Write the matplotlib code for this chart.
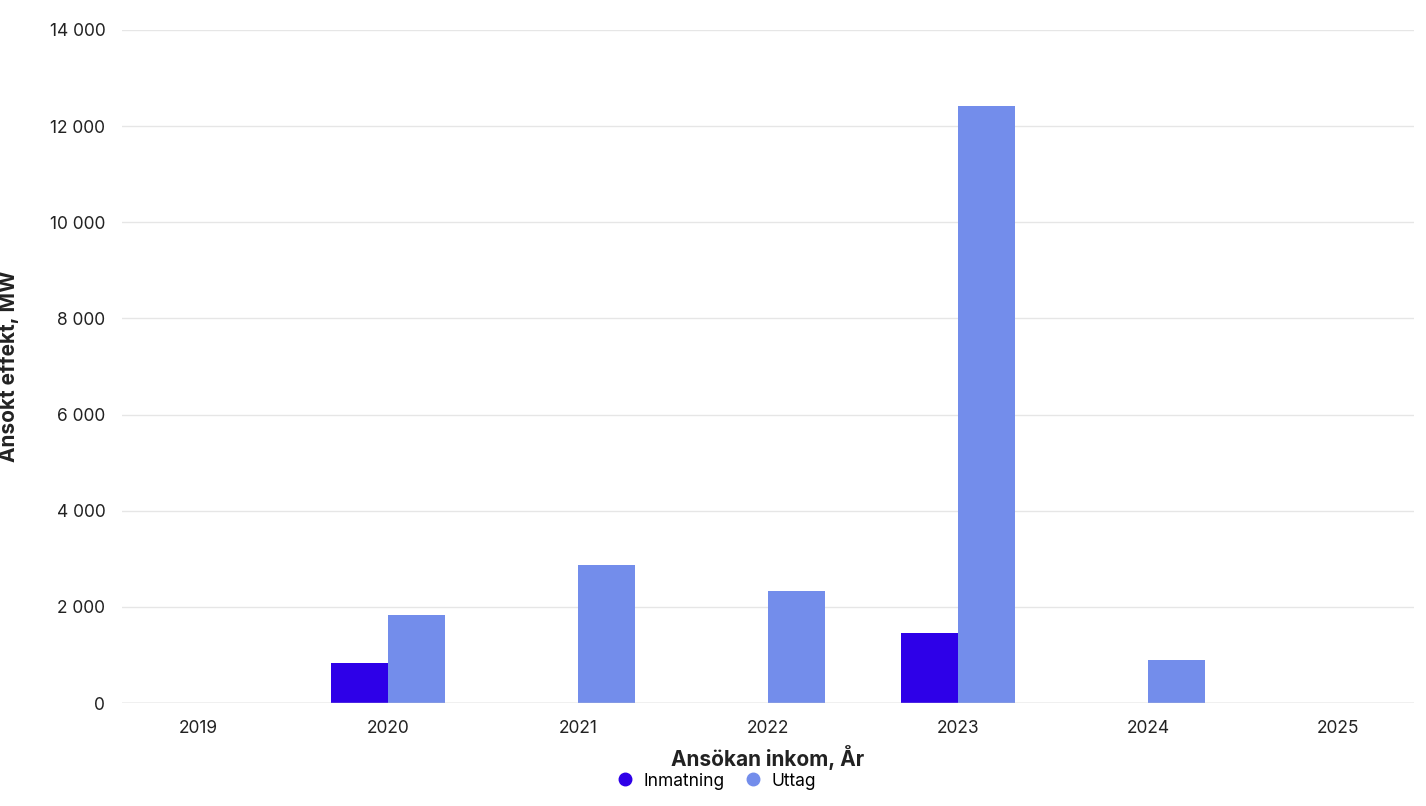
import matplotlib
matplotlib.use("Agg")
from matplotlib import pyplot as plt
from matplotlib.lines import Line2D
import numpy as np

years = ["2019", "2020", "2021", "2022", "2023", "2024", "2025"]
inmatning = [0, 830, 0, 0, 1456, 0, 0]
uttag = [0, 1830, 2870, 2330, 12420, 895, 0]

plt.rcParams['font.family'] = ['Inter', 'DejaVu Sans']

fig = plt.figure(figsize=(14.26, 8.06), dpi=100)
ax = fig.add_axes([122/1426, 1 - 703/806, (1414-122)/1426, (703-30)/806])

x = np.arange(len(years))
w = 0.3
ax.bar(x - w/2, inmatning, width=w, color="#2e00e8", zorder=3)
ax.bar(x + w/2, uttag, width=w, color="#738deb", zorder=3)

ax.set_xlim(-0.4, 6.4)
ax.set_ylim(0, 14000)
ax.set_xticks(x)
ax.set_xticklabels(years, fontsize=12.5, color="#222222")
yt = np.arange(0, 14001, 2000)
ax.set_yticks(yt)
ax.set_yticklabels([f"{v:,}".replace(",", " ") for v in yt], fontsize=12.5, color="#222222")
ax.tick_params(length=0, pad=12)
ax.tick_params(axis='y', pad=12)
ax.grid(axis='y', color="#e6e6e6", linewidth=1, zorder=0)
for s in ax.spines.values():
    s.set_visible(False)
ax.axhline(0, color="#cccccc", linewidth=1, zorder=4)

ax.set_xlabel("Ansökan inkom, År", fontsize=15, fontweight='bold', color="#222222", labelpad=6)
ax.set_ylabel("Ansökt effekt, MW", fontsize=15, fontweight='bold', color="#222222", labelpad=22)

handles = [Line2D([], [], marker='o', linestyle='', color="#2e00e8", markersize=9),
           Line2D([], [], marker='o', linestyle='', color="#738deb", markersize=9)]
fig.legend(handles, ["Inmatning", "Uttag"], loc='center', bbox_to_anchor=(712/1426, 1 - 781/806),
           ncol=2, frameon=False, fontsize=12.5, handletextpad=0.1, columnspacing=0.6)

fig.savefig("out.png", dpi=100)
